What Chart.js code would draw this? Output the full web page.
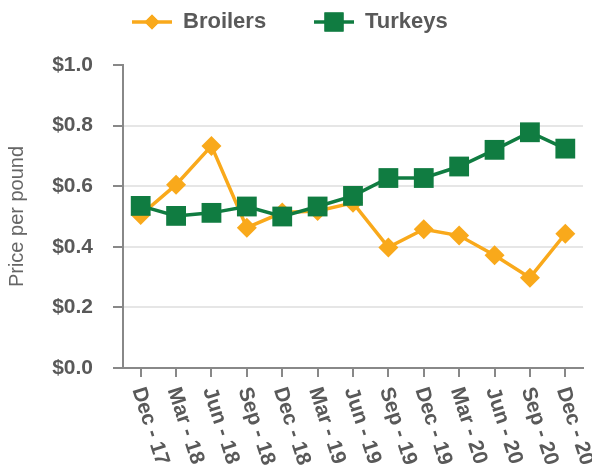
<!DOCTYPE html>
<html>
<head>
<meta charset="utf-8">
<script src="https://cdn.jsdelivr.net/npm/chart.js@4/dist/chart.umd.min.js"></script>
<style>
  html, body { margin: 0; padding: 0; background: #fff; }
  #wrap { width: 592px; height: 467px; }
</style>
</head>
<body>
<div id="wrap"><canvas id="graph"></canvas></div>
<script>
var quarters = ["Dec - 17", "Mar - 18", "Jun - 18", "Sep - 18", "Dec - 18", "Mar - 19", "Jun - 19",
                "Sep - 19", "Dec - 19", "Mar - 20", "Jun - 20", "Sep - 20", "Dec - 20"];
var broilers = [0.505, 0.605, 0.733, 0.463, 0.513, 0.518, 0.545, 0.398, 0.458, 0.437, 0.372, 0.298, 0.443];
var turkeys  = [0.535, 0.502, 0.512, 0.533, 0.500, 0.533, 0.568, 0.627, 0.627, 0.665, 0.720, 0.778, 0.724];
var yTicks = [0, 0.2, 0.4, 0.6, 0.8, 1.0];

var FONT = "'Liberation Sans', Arial, sans-serif";
var TEXT = '#595959';
var ORANGE = '#F9A91B';
var GREEN = '#107C41';

// legend drawn by hand so each entry shows line + marker
var legendPlugin = {
    id: 'lineLegend',
    afterDraw: function (chart) {
        var c = chart.ctx;
        var items = [
            {x: 132, r: 7.5, ds: chart.data.datasets[0]},
            {x: 314, r: 13.5, ds: chart.data.datasets[1]}
        ];
        c.save();
        items.forEach(function (it) {
            var y = 22;
            c.strokeStyle = it.ds.borderColor;
            c.lineWidth = 3.5;
            c.beginPath();
            c.moveTo(it.x, y);
            c.lineTo(it.x + 40, y);
            c.stroke();
            c.fillStyle = it.ds.backgroundColor;
            Chart.helpers.drawPoint(c, {
                pointStyle: it.ds.pointStyle,
                radius: it.r,
                borderWidth: 0,
                rotation: 0
            }, it.x + 20, y);
            c.fill();
            c.fillStyle = TEXT;
            c.font = 'bold 22px ' + FONT;
            c.textAlign = 'left';
            c.textBaseline = 'alphabetic';
            c.fillText(it.ds.label, it.x + 51, 28);
        });
        c.restore();
    }
};

// x labels rotated clockwise, reading downward
var xLabelPlugin = {
    id: 'downLabels',
    afterDraw: function (chart) {
        var c = chart.ctx;
        var xs = chart.scales.x;
        var ang = 72 * Math.PI / 180;
        c.save();
        c.fillStyle = TEXT;
        c.font = 'bold 21px ' + FONT;
        c.textAlign = 'left';
        c.textBaseline = 'middle';
        xs.ticks.forEach(function (t, i) {
            var px = xs.getPixelForTick(i);
            c.save();
            c.translate(px - 3, xs.top + 20);
            c.rotate(ang);
            c.fillText(quarters[i], 0, 0);
            c.restore();
        });
        c.restore();
    }
};

var graph_context = document.getElementById('graph').getContext('2d');
var graph = new Chart(graph_context, {
    type: 'line',
    data: {
        labels: quarters,
        datasets: [{
            label: 'Broilers',
            data: broilers,
            borderColor: ORANGE,
            backgroundColor: ORANGE,
            pointStyle: 'rectRot',
            pointRadius: 10,
            pointBorderWidth: 0,
            borderWidth: 3.5,
            order: 2
        }, {
            label: 'Turkeys',
            data: turkeys,
            borderColor: GREEN,
            backgroundColor: GREEN,
            pointStyle: 'rect',
            pointRadius: 14,
            pointBorderWidth: 0,
            borderWidth: 3.5,
            order: 1
        }]
    },
    options: {
        responsive: true,
        maintainAspectRatio: false,
        animation: false,
        layout: { autoPadding: false, padding: { top: 65, right: 9, left: 0, bottom: 0 } },
        plugins: {
            legend: { display: false },
            tooltip: { enabled: false }
        },
        elements: { line: { tension: 0 } },
        scales: {
            x: {
                offset: true,
                border: { color: '#888', width: 2 },
                grid: { drawOnChartArea: false, tickLength: 9, tickColor: '#888', lineWidth: 2 },
                ticks: { display: false },
                afterFit: function (s) { s.height = 99; }
            },
            y: {
                min: 0,
                max: 1,
                afterBuildTicks: function (s) { s.ticks = yTicks.map(function (v) { return {value: v}; }); },
                border: { color: '#888', width: 2 },
                grid: {
                    color: function (ctx) { return ctx.tick && ctx.tick.value === 1 ? 'rgba(0,0,0,0)' : '#e6e6e6'; },
                    lineWidth: 2,
                    tickLength: 10,
                    tickColor: '#888'
                },
                ticks: {
                    color: TEXT,
                    font: { family: FONT, size: 21, weight: 'bold' },
                    padding: 20,
                    callback: function (v) { return '$' + Number(v).toFixed(1); }
                },
                title: {
                    display: true,
                    text: 'Price per pound',
                    color: '#666',
                    font: { family: FONT, size: 20 },
                    padding: { top: 5, bottom: 0 }
                },
                afterFit: function (s) { s.width = 123; }
            }
        }
    },
    plugins: [legendPlugin, xLabelPlugin]
});
</script>
</body>
</html>
